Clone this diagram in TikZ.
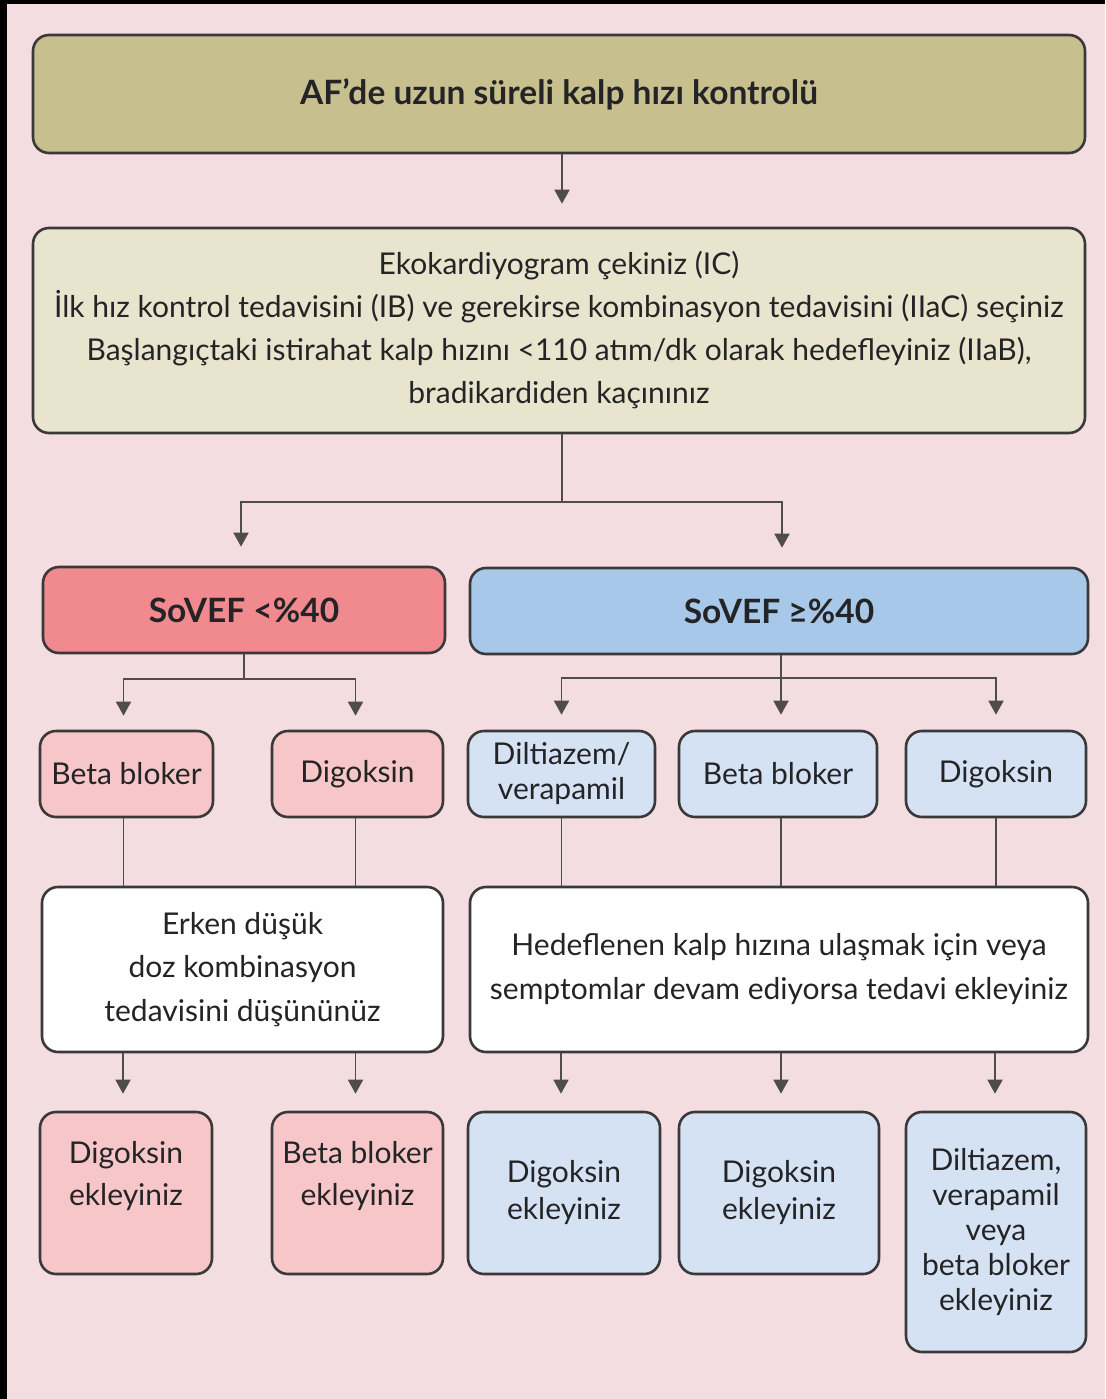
\documentclass[tikz,border=0pt]{standalone}
\usepackage{fontspec}
\setmainfont{Lato}
\usetikzlibrary{arrows.meta}
\definecolor{bgpink}{RGB}{243,221,225}
\definecolor{khaki}{RGB}{199,191,142}
\definecolor{beige}{RGB}{232,228,206}
\definecolor{redbox}{RGB}{240,138,142}
\definecolor{bluebox}{RGB}{168,200,234}
\definecolor{lpink}{RGB}{246,198,200}
\definecolor{lblue}{RGB}{213,226,243}
\definecolor{edge}{RGB}{58,56,56}
\definecolor{ink}{RGB}{36,36,38}
\tikzset{
  box/.style={draw=edge, line width=2.6pt, rounded corners=16pt, inner sep=0pt,
    align=center, text=ink, font=\fontsize{30}{42}\selectfont},
  txt/.style={inner sep=0pt, align=center, text=ink, font=\fontsize{30}{42}\selectfont},
  head/.style={font=\bfseries\fontsize{33.5}{40}\selectfont},
  conn/.style={draw=edge!90, line width=1.8pt},
  arr/.style={conn, -{Triangle[length=14pt,width=15pt]}},
}
\begin{document}
\begin{tikzpicture}[x=1pt,y=-1pt]
\fill[bgpink] (0,0) rectangle (1105,1399);
\useasboundingbox (0,0) rectangle (1105,1399);
\fill[black] (0,0) rectangle (1105,4.5);
\fill[black] (0,0) rectangle (7,1399);

% title
\node[box, fill=khaki, minimum width=1052pt, minimum height=118pt, head] (top) at (559,94)
  {AF’de uzun süreli kalp hızı kontrolü};

\node[box, fill=beige, minimum width=1052pt, minimum height=205pt,
  font=\fontsize{30}{43}\selectfont] (b2) at (559,330.5)
  {Ekokardiyogram çekiniz (IC)\\
   İlk hız kontrol tedavisini (IB) ve gerekirse kombinasyon tedavisini (IIaC) seçiniz\\
   Başlangıçtaki istirahat kalp hızını <110 atım/dk olarak hedefleyiniz (IIaB),\\
   bradikardiden kaçınınız};

\node[box, fill=redbox, minimum width=402pt, minimum height=86pt, head] (red) at (244,610) {SoVEF <\%40};
\node[box, fill=bluebox, minimum width=618pt, minimum height=86pt, head] (blue) at (779,611) {SoVEF ≥\%40};

% row 3
\node[box, fill=lpink, minimum width=173pt, minimum height=86pt] (r3a) at (126.5,774) {Beta bloker};
\node[box, fill=lpink, minimum width=171pt, minimum height=86pt] (r3b) at (357.5,774) {Digoksin};
\node[box, fill=lblue, minimum width=187pt, minimum height=86pt,
  font=\fontsize{30}{35}\selectfont] (r3c) at (561.5,774) {Diltiazem/\\verapamil};
\node[box, fill=lblue, minimum width=198pt, minimum height=86pt] (r3d) at (778,774) {Beta bloker};
\node[box, fill=lblue, minimum width=180pt, minimum height=86pt] (r3e) at (996,774) {Digoksin};

% row 4
\node[box, fill=white, minimum width=401pt, minimum height=165pt,
  font=\fontsize{30}{43.5}\selectfont] (r4a) at (242.5,969.5)
  {Erken düşük\\doz kombinasyon\\tedavisini düşününüz};
\node[box, fill=white, minimum width=618pt, minimum height=165pt,
  font=\fontsize{30}{44}\selectfont] (r4b) at (779,969.5)
  {Hedeflenen kalp hızına ulaşmak için veya\\semptomlar devam ediyorsa tedavi ekleyiniz};

% row 5
\node[box, fill=lpink, minimum width=172pt, minimum height=162pt] (r5a) at (126,1193) {};
\node[txt] (t5a) at (126,1176) {Digoksin\\ekleyiniz};
\node[box, fill=lpink, minimum width=171pt, minimum height=162pt] (r5b) at (357.5,1193) {};
\node[txt] (t5b) at (357.5,1176) {Beta bloker\\ekleyiniz};
\node[box, fill=lblue, minimum width=192pt, minimum height=162pt,
  font=\fontsize{30}{37}\selectfont] (r5c) at (564,1193) {Digoksin\\ekleyiniz};
\node[box, fill=lblue, minimum width=200pt, minimum height=162pt,
  font=\fontsize{30}{37}\selectfont] (r5d) at (779,1193) {Digoksin\\ekleyiniz};
\node[box, fill=lblue, minimum width=180pt, minimum height=240pt,
  font=\fontsize{30}{35}\selectfont] (r5e) at (996,1232)
  {Diltiazem,\\verapamil\\veya\\beta bloker\\ekleyiniz};

% connectors
\coordinate (j0) at (562,502);
\draw[arr, shorten >=23pt] (top.south -| j0) -- (b2.north -| j0);
\draw[conn] (b2.south -| j0) -- (j0);
\draw[arr, shorten >=19pt] (j0) -| ([xshift=-3pt]red.north);
\draw[arr, shorten >=19pt] (j0) -| ([xshift=3pt]blue.north);

\coordinate (j1) at (244,679);
\draw[conn] (red.south) -- (j1);
\draw[arr, shorten >=14pt] (j1) -| ([xshift=-3pt]r3a.north);
\draw[arr, shorten >=14pt] (j1) -| ([xshift=-2pt]r3b.north);

\coordinate (j2) at (781,678);
\draw[conn] (blue.south -| j2) -- (j2);
\draw[arr, shorten >=15pt] (j2) -| (r3c.north);
\draw[arr, shorten >=15pt] (j2) -- (r3d.north -| j2);
\draw[arr, shorten >=15pt] (j2) -| (r3e.north);

\foreach \n/\m/\dx in {r3a/r4a/-3, r3b/r4a/-2, r3c/r4b/0, r3d/r4b/3, r3e/r4b/0}{
  \draw[conn] ([xshift=\dx pt]\n.south) -- ([xshift=\dx pt]\n.south |- \m.north);
}
\foreach \n/\m/\dx in {r5a/r4a/-3, r5b/r4a/-2, r5c/r4b/-3, r5d/r4b/2, r5e/r4b/-1}{
  \draw[arr, shorten >=17pt] ([xshift=\dx pt]\n.north |- \m.south) -- ([xshift=\dx pt]\n.north);
}
\end{tikzpicture}
\end{document}
